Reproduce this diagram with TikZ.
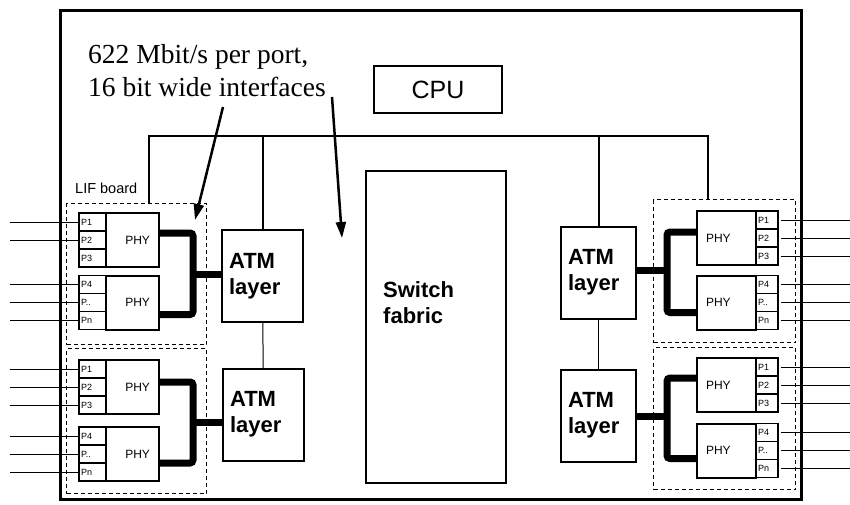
\documentclass[tikz,border=0pt]{standalone}
\usepackage{fontspec}
\setmainfont{Liberation Serif}
\setsansfont{Liberation Sans}
\usetikzlibrary{arrows.meta,positioning}

\tikzset{
  box/.style={draw, line width=2pt, inner sep=0pt, outer sep=0pt},
  atmbox/.style={box, inner xsep=7pt, align=left, minimum height=92pt,
    font=\sffamily\bfseries\fontsize{22}{26}\selectfont},
  phybox/.style={box, minimum height=54pt, inner xsep=9pt, font=\sffamily\fontsize{12}{12}\selectfont},
  portbox/.style={box, line width=1.5pt, minimum height=18pt, inner xsep=2pt, align=left,
    font=\sffamily\fontsize{9}{9}\selectfont},
  lifbox/.style={draw, line width=1pt, dash pattern=on 4pt off 3pt, inner sep=0pt, anchor=north west},
  bus/.style={line width=2pt},
  fat/.style={line width=7pt, rounded corners=3pt},
  wire/.style={line width=1pt},
  note/.style={line width=2.5pt, -{Triangle[length=16pt,width=10pt]}}
}

\begin{document}
\begin{tikzpicture}[x=1pt,y=-1pt]
  \useasboundingbox (0,0) rectangle (850,505);

  % frame
  \draw[line width=3pt] (60,11) rectangle (801,499);

  % line interface boards
  \node[lifbox, minimum width=140pt, minimum height=141pt] (lifL1) at (66,203) {};
  \node[lifbox, minimum width=140pt, minimum height=145pt] (lifL2) at (66,348) {};
  \node[lifbox, minimum width=142pt, minimum height=143pt] (lifR1) at (653,199) {};
  \node[lifbox, minimum width=142pt, minimum height=142pt] (lifR2) at (653,347) {};
  \node[anchor=base west, inner sep=0pt, font=\sffamily\fontsize{14.5}{14.5}\selectfont]
    (lifname) at ([xshift=9pt,yshift=10pt]lifL1.north west) {LIF board};

  % text and arrows
  \node[anchor=north west, inner sep=0pt, align=left, font=\fontsize{27.5}{33}\selectfont]
    (txt) at (88,44) {622 Mbit/s per port,\\16 bit wide interfaces};
  \coordinate (a1s) at (223,107);
  \coordinate (a1e) at (195,220);
  \coordinate (a2s) at (332,97);
  \coordinate (a2e) at (342,238);
  \draw[note] (a1s) -- (a1e);
  \draw[note] (a2s) -- (a2e);

  % cpu, switch, atm
  \node[box, minimum width=128pt, minimum height=47pt, font=\sffamily\fontsize{25}{25}\selectfont]
    (cpu) at (438,89.5) {CPU};
  \node[box, minimum width=140pt, minimum height=312pt] (sw) at (436,327) {};
  \node[anchor=north west, inner sep=0pt, align=left, font=\sffamily\bfseries\fontsize{22}{26}\selectfont]
    (swname) at ([xshift=17pt,yshift=-110pt]sw.north west) {Switch\\fabric};

  \node[atmbox, text width=67pt] (atmL1) at (262.5,276) {ATM\\layer};
  \node[atmbox, text width=67pt] (atmL2) at (263.5,414.5) {ATM\\layer};
  \node[atmbox, text width=61pt] (atmR1) at (598.5,272.5) {ATM\\layer};
  \node[atmbox, text width=61pt] (atmR2) at (598.5,415.5) {ATM\\layer};
  \draw[wire] (atmL1) -- (atmL2);
  \draw[wire] (atmR1) -- (atmR2);

  % bus
  \coordinate (busL) at (149,136);
  \coordinate (busR) at (708,136);
  \draw[bus] (busL |- lifL1.north) -- (busL) -- (busR) -- (busR |- lifR1.north);
  \draw[bus] (atmL1.north) -- (atmL1.north |- busL);
  \draw[bus] (atmR1.north) -- (atmR1.north |- busL);

  % phy boxes, left side
  \foreach \n/\y/\a/\b/\c in {L1/240/P1/P2/P3, L2/302.5/P4/P../Pn, L3/387/P1/P2/P3, L4/454/P4/P../Pn} {
    \node[phybox, text width=35pt, align=right, anchor=east] (phy\n) at (159,\y) {PHY};
    \node[portbox, text width=23pt, anchor=north east] (phy\n-1) at (phy\n.north west) {\a};
    \node[portbox, text width=23pt, below=0pt of phy\n-1] (phy\n-2) {\b};
    \node[portbox, text width=23pt, below=0pt of phy\n-2] (phy\n-3) {\c};
  }
  % phy boxes, right side
  \foreach \n/\y/\a/\b/\c in {R1/238/P1/P2/P3, R2/302.5/P4/P../Pn, R3/385/P1/P2/P3, R4/450.5/P4/P../Pn} {
    \node[phybox, text width=41pt, align=left, anchor=west] (phy\n) at (697,\y) {PHY};
    \node[portbox, text width=18pt, anchor=north west] (phy\n-1) at (phy\n.north east) {\a};
    \node[portbox, text width=18pt, below=0pt of phy\n-1] (phy\n-2) {\b};
    \node[portbox, text width=18pt, below=0pt of phy\n-2] (phy\n-3) {\c};
  }

  % port lines
  \coordinate (inL) at (10,0);
  \coordinate (inR) at (850,0);
  \foreach \p in {L1-1,L1-2,L2-1,L2-2,L2-3,L3-1,L3-2,L3-3,L4-1,L4-2,L4-3}
    \draw[wire] (phy\p.west) -- (phy\p.west -| inL);
  \foreach \p in {R1-1,R1-2,R1-3,R2-1,R2-2,R2-3,R3-1,R3-2,R3-3,R4-1,R4-2,R4-3}
    \draw[wire] ([xshift=3pt]phy\p.east) -- (phy\p.east -| inR);

  % 16 bit interfaces
  \coordinate (jL1) at (193,274);
  \coordinate (jL2) at (193,422);
  \coordinate (jR1) at (667,270);
  \coordinate (jR2) at (667,416);
  \draw[fat] ([yshift=7pt]phyL1.east) -| (jL1) |- ([yshift=-12pt]phyL2.east);
  \draw[fat] ([yshift=5pt]phyL3.east) -| (jL2) |- ([yshift=-9pt]phyL4.east);
  \draw[fat] ([yshift=6pt]phyR1.west) -| (jR1) |- ([yshift=-10pt]phyR2.west);
  \draw[fat] ([yshift=7pt]phyR3.west) -| (jR2) |- ([yshift=-8pt]phyR4.west);
  \draw[fat] (jL1) -- (jL1 -| atmL1.west);
  \draw[fat] (jL2) -- (jL2 -| atmL2.west);
  \draw[fat] (jR1) -- (jR1 -| atmR1.east);
  \draw[fat] (jR2) -- (jR2 -| atmR2.east);
\end{tikzpicture}
\end{document}
